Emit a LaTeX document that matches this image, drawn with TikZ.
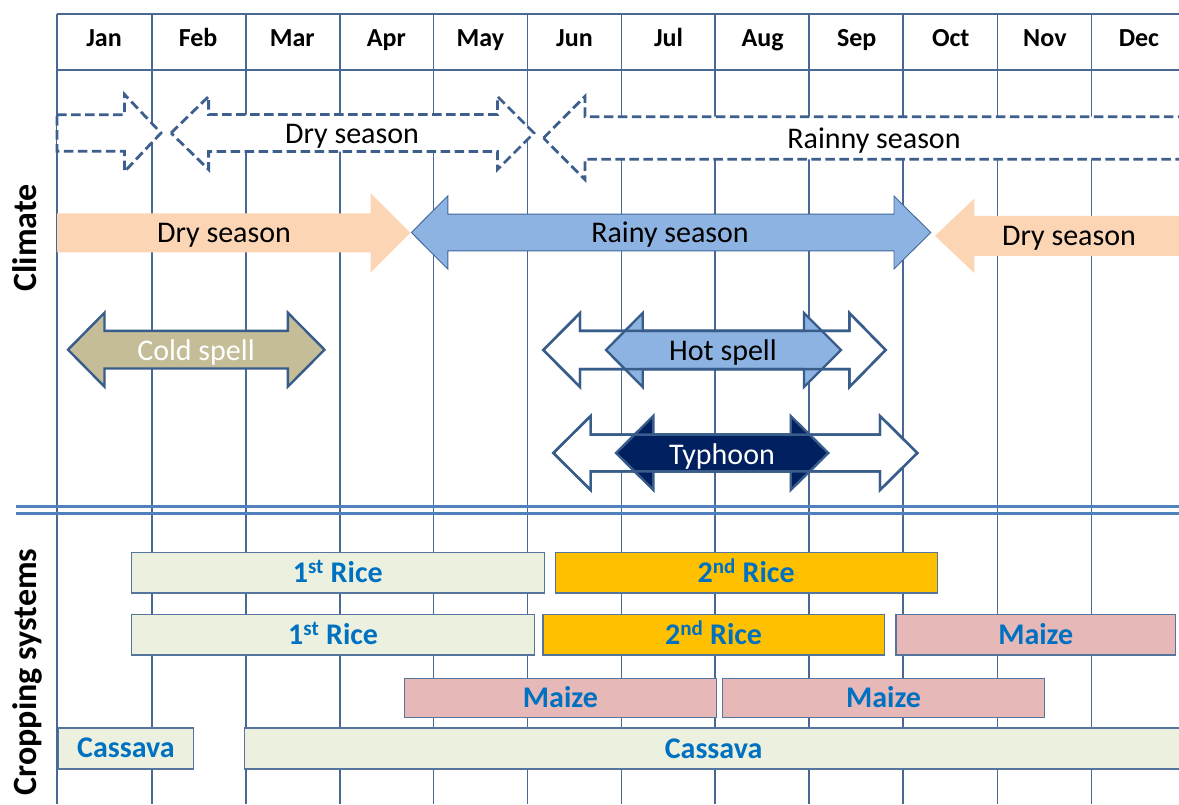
\documentclass[tikz,border=0pt]{standalone}
\usepackage{fontspec}
\setmainfont{Carlito}
\definecolor{gridc}{HTML}{4A6894}
\definecolor{outl}{HTML}{385D8A}
\definecolor{dashc}{HTML}{3C5F8D}
\definecolor{peach}{HTML}{FCD5B5}
\definecolor{skyb}{HTML}{8DB3E2}
\definecolor{khaki}{HTML}{C4BD97}
\definecolor{navyb}{HTML}{002060}
\definecolor{lgreen}{HTML}{EBF1DE}
\definecolor{goldb}{HTML}{FFC000}
\definecolor{pinkb}{HTML}{E6B9B8}
\definecolor{txtblue}{HTML}{0070C0}
\definecolor{sepc}{HTML}{4F81BD}
% double arrow path: lefttip, leftbase, rightbase, righttip, cy, shafthalf, headhalf
\newcommand\DArrPath[7]{(#1,#5) -- (#2,{#5-#7}) -- (#2,{#5-#6}) -- (#3,{#5-#6}) -- (#3,{#5-#7}) -- (#4,#5) -- (#3,{#5+#7}) -- (#3,{#5+#6}) -- (#2,{#5+#6}) -- (#2,{#5+#7}) -- cycle}
% right arrow: start, base, tip, cy, shafthalf, headhalf
\newcommand\RArrPath[6]{(#1,{#4-#5}) -- (#2,{#4-#5}) -- (#2,{#4-#6}) -- (#3,#4) -- (#2,{#4+#6}) -- (#2,{#4+#5}) -- (#1,{#4+#5}) -- cycle}
% left arrow: tip, base, end, cy, shafthalf, headhalf
\newcommand\LArrPath[6]{(#1,#4) -- (#2,{#4-#6}) -- (#2,{#4-#5}) -- (#3,{#4-#5}) -- (#3,{#4+#5}) -- (#2,{#4+#5}) -- (#2,{#4+#6}) -- cycle}
\begin{document}
\begin{tikzpicture}[x=1pt,y=-1pt,
  gridline/.style={draw=gridc,line width=1.3pt},
  dasharr/.style={draw=dashc,line width=2.8pt,dash pattern=on 9.5pt off 4.5pt,fill=white},
  spellarr/.style={draw=outl,line width=2.4pt},
  monthlbl/.style={font=\fontsize{26}{30}\selectfont\bfseries,anchor=base,inner sep=0pt},
  seasonlbl/.style={font=\fontsize{30}{36}\selectfont,anchor=base,inner sep=0pt},
  sidelbl/.style={font=\fontsize{34}{40}\selectfont\bfseries,anchor=base,inner sep=0pt,rotate=90},
  cropbar/.style={draw=outl!85,line width=1.2pt,inner sep=0pt,text=txtblue,
    font=\fontsize{30}{36}\selectfont\bfseries,text height=19pt,text depth=0pt,anchor=north west}
]
\clip (0,0) rectangle (1179,804);
\fill[white] (0,0) rectangle (1179,804);
% grid
\foreach \x in {57,152,246,340,433.6,527.4,621.2,715,809,903,997.4,1091.4}
  \draw[gridline] (\x,14) -- (\x,804);
\draw[gridline] (57,14) -- (1185,14);
\draw[gridline] (57,70) -- (1185,70);
% months
\foreach \m [count=\i] in {Jan,Feb,Mar,Apr,May,Jun,Jul,Aug,Sep,Oct,Nov,Dec}
  \node[monthlbl] (m\i) at ({57+94.08*(\i-0.5)},46) {\m};
% side labels
\node[sidelbl] (climate) at (36.4,238) {Climate};
\node[sidelbl] (crop) at (36.4,672) {Cropping systems};
% dashed season arrows
\draw[dasharr] \RArrPath{57}{124.4}{161}{133}{18.2}{38.7};
\draw[dasharr] \DArrPath{171}{208.6}{497.5}{534}{133}{18.5}{36.5};
\draw[dasharr] \LArrPath{543.5}{585}{1195}{138}{21.3}{41.7};
\node[seasonlbl] (dry1) at (352,143.3) {Dry season};
\node[seasonlbl] (rain1) at (874,148.3) {Rainny season};
% solid season arrows
\fill[peach] \RArrPath{57}{370.5}{410.3}{232.8}{19.5}{39.7};
\draw[fill=skyb,draw=sepc!80!black,line width=0.9pt] \DArrPath{411.4}{447.8}{894}{930.7}{232.5}{18.35}{36.5};
\fill[peach] \LArrPath{935}{974.3}{1195}{235.8}{20}{37.2};
\node[seasonlbl] (dry2) at (224,242.3) {Dry season};
\node[seasonlbl] (rain2) at (670,242.3) {Rainy season};
\node[seasonlbl] (dry3) at (1069,245) {Dry season};
% spells
\draw[spellarr,fill=khaki] \DArrPath{68}{104.5}{287.8}{324.5}{349.7}{18.8}{37};
\node[seasonlbl,text=white] (cold) at (196,360) {Cold spell};
\draw[spellarr,fill=white] \DArrPath{543.3}{580}{849.3}{885.7}{350}{19.15}{37};
\draw[spellarr,fill=skyb] \DArrPath{606}{642.7}{804}{841}{350}{19.15}{37};
\draw[spellarr] \DArrPath{543.3}{580}{849.3}{885.7}{350}{19.15}{37};
\node[seasonlbl] (hot) at (723,360) {Hot spell};
\draw[spellarr,fill=white] \DArrPath{553.3}{590.7}{880}{917.3}{453}{18.35}{37};
\draw[spellarr,fill=navyb] \DArrPath{616}{653.3}{790.7}{828.3}{453}{18.35}{37};
\draw[spellarr] \DArrPath{553.3}{590.7}{880}{917.3}{453}{18.35}{37};
\node[seasonlbl,text=white] (typh) at (722,464) {Typhoon};
% separator
\draw[sepc,line width=3pt] (16,506) -- (1185,506);
\draw[sepc,line width=3pt] (16,513.3) -- (1185,513.3);
% crop bars
\node[cropbar,fill=lgreen,minimum width=413.3pt,minimum height=40.6pt] (r1a) at (130.5,551.7) {1\textsuperscript{st} Rice};
\node[cropbar,fill=goldb,minimum width=382.1pt,minimum height=40.6pt] (r1b) at (554.5,551.7) {2\textsuperscript{nd} Rice};
\node[cropbar,fill=lgreen,minimum width=403.3pt,minimum height=40.6pt] (r2a) at (130.9,613.7) {1\textsuperscript{st} Rice};
\node[cropbar,fill=goldb,minimum width=341.3pt,minimum height=40.6pt] (r2b) at (542.3,613.7) {2\textsuperscript{nd} Rice};
\node[cropbar,fill=pinkb,minimum width=279.5pt,minimum height=40.6pt] (r2c) at (895.4,613.7) {Maize};
\node[cropbar,fill=pinkb,minimum width=311.4pt,minimum height=39pt] (r3a) at (404.1,677.7) {Maize};
\node[cropbar,fill=pinkb,minimum width=322.4pt,minimum height=39pt] (r3b) at (721.8,677.7) {Maize};
\node[cropbar,fill=lgreen,minimum width=134.3pt,minimum height=41pt] (r4a) at (58.2,727.3) {Cassava};
\node[cropbar,fill=lgreen,minimum width=940pt,minimum height=41pt,anchor=north west,text width=0pt] (r4b) at (244.2,727.3) {};
\node[font=\fontsize{30}{36}\selectfont\bfseries,text=txtblue,anchor=base,inner sep=0pt] (r4bl) at (713.6,758.3) {Cassava};
\end{tikzpicture}
\end{document}
